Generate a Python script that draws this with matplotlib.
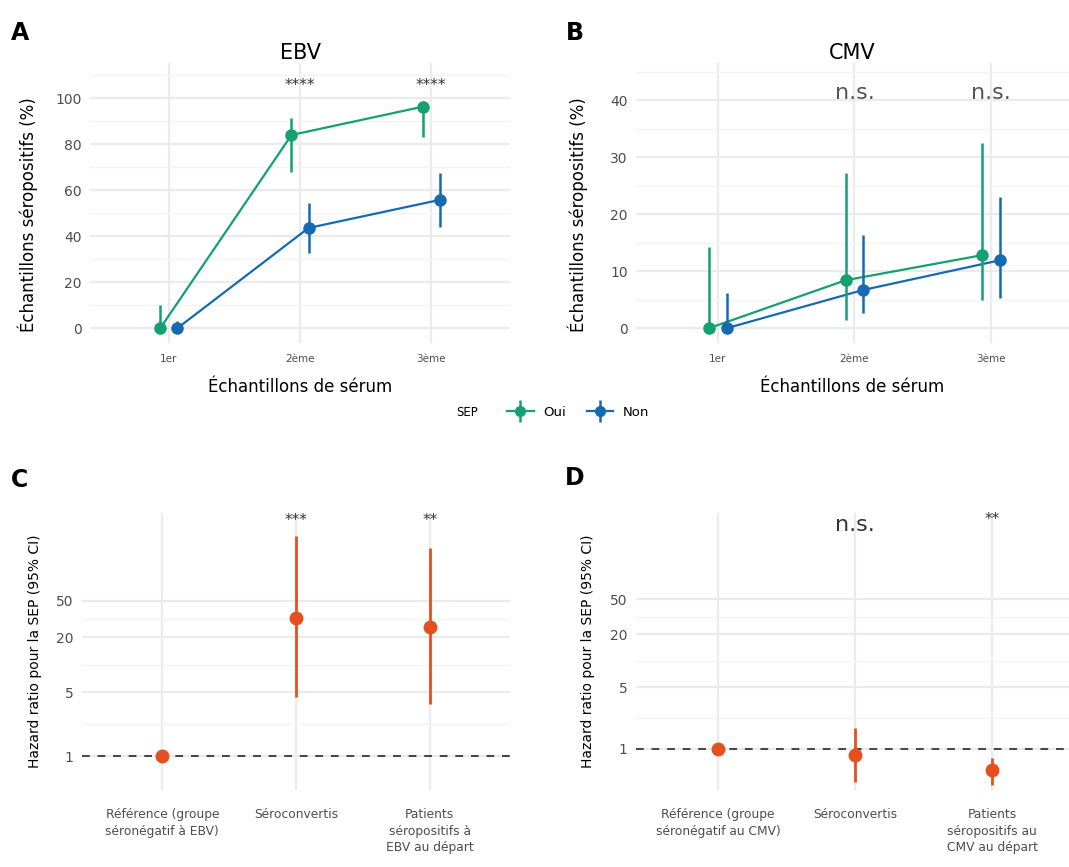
import matplotlib
matplotlib.use('Agg')
import matplotlib.pyplot as plt
from matplotlib.lines import Line2D
from matplotlib.legend_handler import HandlerTuple
import numpy as np

plt.rcParams['font.family'] = ['DejaVu Sans']

# ---------------- data ----------------
samples = ["1er", "2ème", "3ème"]
sep_groups = ["Oui", "Non"]

ebv_oui = [0, 84, 96.3]
ebv_oui_low = [0, 68, 83]
ebv_oui_high = [10, 91.5, 99]
ebv_non = [0, 43.6, 55.8]
ebv_non_low = [0, 32.7, 44]
ebv_non_high = [3, 54.4, 67.5]

cmv_oui = [0, 8.4, 12.8]
cmv_oui_low = [0, 1.4, 4.9]
cmv_oui_high = [14.2, 27.2, 32.4]
cmv_non = [0, 6.7, 11.9]
cmv_non_low = [0, 2.6, 5.3]
cmv_non_high = [6.1, 16.3, 23]

sig_ebv = ["", "****", "****"]
sig_cmv = ["", "n.s.", "n.s."]

hr_groups_ebv = ["Référence (groupe\nséronégatif à EBV)", "Séroconvertis",
                 "Patients\nséropositifs à\nEBV au départ"]
hr_ebv = [1, 32.4, 25.9]
hr_ebv_low = [1, 4.4, 3.7]
hr_ebv_high = [1, 252, 187]
sig_hr_ebv = ["", "***", "**"]

hr_groups_cmv = ["Référence (groupe\nséronégatif au CMV)", "Séroconvertis",
                 "Patients\nséropositifs au\nCMV au départ"]
hr_cmv = [1, 0.85, 0.58]
hr_cmv_low = [1, 0.42, 0.39]
hr_cmv_high = [1, 1.73, 0.79]
sig_hr_cmv = ["", "n.s.", "**"]

hr_ticks = [1, 5, 20, 50]

# ---------------- style ----------------
GREEN = "#14A070"
BLUE = "#156AB2"
RED = "#E5501E"
GRID = "#EBEBEB"
TICKC = "#4D4D4D"

W, H = 1069, 867
fig = plt.figure(figsize=(W / 100, H / 100), dpi=100)


def rect(l, r, t, b):
    return [l / W, 1 - b / H, (r - l) / W, (b - t) / H]


def base_axes(ax):
    for s in ax.spines.values():
        s.set_visible(False)
    ax.tick_params(length=0, colors=TICKC)
    ax.set_axisbelow(True)


def series_panel(ax, title, data, ylim, yticks, minor, sig, sig_y, sig_size, sig_col,
                 ylab_x):
    base_axes(ax)
    x = np.arange(len(samples))
    for xv in x:
        ax.axvline(xv, color=GRID, lw=1.6, zorder=0)
    for yv in yticks:
        ax.axhline(yv, color=GRID, lw=1.6, zorder=0)
    for yv in minor:
        ax.axhline(yv, color="#F3F3F3", lw=0.9, zorder=0)
    dodge = 0.065
    for (vals, lo, hi, col, off) in data:
        xs = x + off * dodge
        ax.plot(xs, vals, color=col, lw=1.6, zorder=2)
        ax.vlines(xs, lo, hi, color=col, lw=1.8, zorder=3)
        ax.plot(xs, vals, 'o', color=col, ms=8, zorder=4)
    ax.set_ylim(*ylim)
    ax.set_yticks(yticks)
    ax.set_xticks(x)
    ax.set_xticklabels(samples, fontsize=7.5)
    ax.tick_params(axis='y', labelsize=10, pad=6)
    ax.tick_params(axis='x', pad=8)
    ax.set_xlabel("Échantillons de sérum", fontsize=12)
    ax.set_ylabel("Échantillons séropositifs (%)", fontsize=12)
    ax.xaxis.set_label_coords(0.5, -0.125)
    ax.yaxis.set_label_coords(ylab_x, 0.46)
    ax.set_title(title, fontsize=15, pad=1.5)
    for xv, s in zip(x, sig):
        if s:
            ax.text(xv, sig_y, s, ha='center', va='center', fontsize=sig_size,
                    color=sig_col)


# Panel A
axA = fig.add_axes(rect(90, 510, 63, 343))
series_panel(axA, "EBV",
             [(ebv_oui, ebv_oui_low, ebv_oui_high, GREEN, -1),
              (ebv_non, ebv_non_low, ebv_non_high, BLUE, 1)],
             (-6.4, 115.3), [0, 20, 40, 60, 80, 100], [10, 30, 50, 70, 90, 110],
             sig_ebv, 105.5, 11, "#333333", -0.124)
axA.set_xlim(-0.6, 2.6)

# Panel B
axB = fig.add_axes(rect(636, 1069, 63, 343))
series_panel(axB, "CMV",
             [(cmv_oui, cmv_oui_low, cmv_oui_high, GREEN, -1),
              (cmv_non, cmv_non_low, cmv_non_high, BLUE, 1)],
             (-2.6, 46.5), [0, 10, 20, 30, 40], [5, 15, 25, 35, 45],
             sig_cmv, 41.2, 16, "#555555", -0.111)
axB.set_xlim(-0.6, -0.6 + 433 / 136.5)


def hr_panel(ax, groups, vals, lo, hi, ylim, sig, sig_y, sig_sizes, ylab_x):
    base_axes(ax)
    ax.set_yscale('log')
    x = np.arange(len(groups))
    for xv in x:
        ax.axvline(xv, color=GRID, lw=1.6, zorder=0)
    for yv in hr_ticks:
        ax.axhline(yv, color=GRID, lw=1.6, zorder=0)
    lt = np.log10(hr_ticks)
    mids = [10 ** ((a + b) / 2) for a, b in zip(lt[:-1], lt[1:])]
    for yv in mids:
        ax.axhline(yv, color="#F3F3F3", lw=0.9, zorder=0)
    ax.axhline(1, color="#444444", lw=1.4, ls=(0, (4, 4)), zorder=1)
    ax.vlines(x, lo, hi, color=RED, lw=2.0, zorder=3)
    ax.plot(x, vals, 'o', color=RED, ms=9, zorder=4)
    ax.set_ylim(*ylim)
    ax.set_yticks(hr_ticks)
    ax.set_yticklabels([str(t) for t in hr_ticks])
    ax.minorticks_off()
    ax.set_xticks(x)
    ax.set_xticklabels(groups, fontsize=8.8, linespacing=1.35, va='top')
    ax.tick_params(axis='y', labelsize=10, pad=6)
    ax.tick_params(axis='x', pad=13)
    ax.set_ylabel("Hazard ratio pour la SEP (95% CI)", fontsize=10)
    ax.yaxis.set_label_coords(ylab_x, 0.5)
    for xv, s, sy, fs in zip(x, sig, sig_y, sig_sizes):
        if s:
            ax.text(xv, sy, s, ha='center', va='center', fontsize=fs,
                    color="#333333")


# Panel C
axC = fig.add_axes(rect(82, 510, 513, 790))
hr_panel(axC, hr_groups_ebv, hr_ebv, hr_ebv_low, hr_ebv_high, (0.43, 450),
         sig_hr_ebv, [0, 370, 370], [0, 11, 11], -0.093)
axC.set_xlim(-0.6, 2.6)

# Panel D
axD = fig.add_axes(rect(636, 1069, 513, 790))
hr_panel(axD, hr_groups_cmv, hr_cmv, hr_cmv_low, hr_cmv_high, (0.34, 480),
         sig_hr_cmv, [0, 351, 400], [0, 16, 11], -0.095)
axD.set_xlim(-0.6, -0.6 + 433 / 137)

# panel letters
for lab, (px, py) in zip("ABCD", [(20, 33), (575, 33), (20, 480), (575, 478)]):
    fig.text(px / W, 1 - py / H, lab, fontsize=17, fontweight='bold',
             ha='center', va='center')

# legend
fig.text(467 / W, 1 - 412 / H, "SEP", fontsize=8.5, ha='center', va='center')
handles = []
for col in [GREEN, BLUE]:
    h1 = Line2D([], [], color=col, lw=1.6, marker='o', ms=7)
    h2 = Line2D([], [], color=col, lw=0, marker='|', ms=16, mew=1.8)
    handles.append((h1, h2))
fig.legend(handles, sep_groups, loc='center', bbox_to_anchor=(578 / W, 1 - 412 / H),
           ncol=2, frameon=False, fontsize=9.5, handlelength=2.0, columnspacing=1.6,
           handletextpad=0.7, handler_map={tuple: HandlerTuple(ndivide=1)})

fig.savefig("out.png", dpi=100, facecolor='white')
